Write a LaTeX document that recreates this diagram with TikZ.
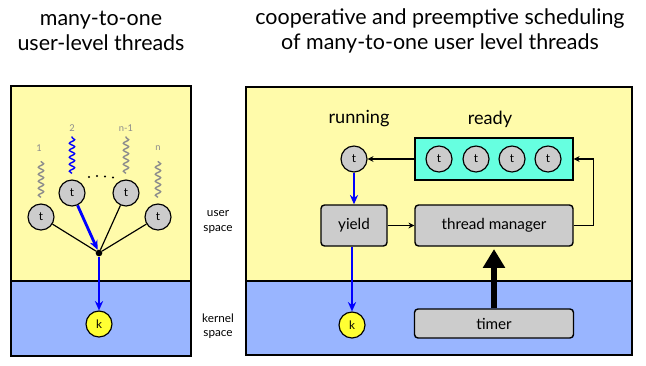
\documentclass[tikz,border=0pt]{standalone}
\usepackage{fontspec}
\setmainfont{Lato}
\usetikzlibrary{arrows.meta,positioning,decorations.pathmorphing}

\definecolor{userbg}{HTML}{FFFBAA}
\definecolor{kernbg}{HTML}{99B5FF}
\definecolor{boxgray}{HTML}{CCCCCC}
\definecolor{readybg}{HTML}{66FFE0}
\definecolor{kyellow}{HTML}{FFFF33}
\definecolor{wavegray}{HTML}{8C8C8C}

\begin{document}
\begin{tikzpicture}[
  x=0.03cm, y=-0.03cm,
  panel/.style={draw, line width=1.6pt},
  thr/.style={circle, draw, line width=1pt, fill=boxgray, minimum size=0.78cm,
    inner sep=0pt, font=\fontsize{10}{10}\selectfont},
  kthr/.style={thr, fill=kyellow},
  junc/.style={circle, fill, inner sep=0pt, minimum size=0.2cm},
  mbox/.style={draw, rounded corners=3pt, line width=1.2pt, fill=boxgray,
    minimum height=1.23cm, font=\fontsize{13}{15}\selectfont},
  title/.style={align=center, font=\fontsize{18.3}{22}\selectfont},
  state/.style={font=\fontsize{15.5}{19}\selectfont},
  side/.style={align=center, font=\fontsize{10}{12}\selectfont},
  num/.style={text=wavegray, font=\fontsize{8}{8}\selectfont},
  wave/.style={draw=wavegray, line width=1.2pt,
    decorate, decoration={snake, amplitude=0.08cm, segment length=0.21cm}},
  link/.style={-{Stealth[length=5pt, width=5pt]}, line width=1pt},
  flow/.style={-{Stealth[length=8pt, width=7pt]}, draw=blue, line width=2.4pt},
  tick/.style={-{Triangle[length=16pt, width=18pt]}, line width=4.5pt}
]
\useasboundingbox (0,0) rectangle (646,365);

% titles
\node[title] (ltitle) at (101,31) {many-to-one\\user-level threads};
\node[title] (rtitle) at (440,31) {cooperative and preemptive scheduling\\of many-to-one user level threads};

% left panel: user and kernel space
\fill[userbg] (11,86) rectangle (191,281);
\fill[kernbg] (11,281) rectangle (191,356);
\draw[panel] (11,86) rectangle (191,356);
\draw[panel] (11,281) -- (191,281);

\node[side] (uspace) at (218,222) {user\\space};
\node[side] (kspace) at (218,326) {kernel\\space};

\node[thr] (t1) at (41,217) {t};
\node[thr] (t2) at (72,193) {t};
\node[thr] (t3) at (126,193) {t};
\node[thr] (t4) at (158,217) {t};
\node[junc] (j) at (99,253) {};
\node[kthr] (k1) at (99,324) {k};

\draw[wave] (t1.north) ++(0,-6) -- ++(0,-36);
\draw[wave, draw=blue] (t2.north) ++(0,-6) -- ++(0,-37);
\draw[wave] (t3.north) ++(0,-6) -- ++(0,-37);
\draw[wave] (t4.north) ++(0,-6) -- ++(0,-36);
\node[num] (n1) at (39,148) {1};
\node[num] (n2) at (72,128) {2};
\node[num] (n3) at (126,128) {n-1};
\node[num] (n4) at (158,148) {n};
\fill (89,177) circle (1.2) (97,176) circle (1.2) (105,176.5) circle (1.2) (113,177.5) circle (1.2);

\draw[line width=1pt] (t1) -- (j);
\draw[line width=1pt] (t3) -- (j);
\draw[line width=1pt] (t4) -- (j);
\draw[flow] (t2) -- (j);
\draw[flow] (j) -- (k1);

% right panel: scheduling
\fill[userbg] (246,87) rectangle (632,281);
\fill[kernbg] (246,281) rectangle (632,355);
\draw[panel] (246,87) rectangle (632,355);
\draw[panel] (246,281) -- (632,281);

\node[state] (lrun) at (359,119) {running};
\node[state] (lready) at (490,119) {ready};

\node[draw, line width=1.2pt, fill=readybg, minimum width=4.74cm, minimum height=1.26cm] (ready) at (494,159) {};
\node[thr] (r1) at (439,159) {t};
\node[thr] (r2) at (476,159) {t};
\node[thr] (r3) at (512,159) {t};
\node[thr] (r4) at (548,159) {t};

\node[thr] (run) at (354,159) {t};
\node[mbox, minimum width=1.98cm] (yield) at (354,225.5) {yield};
\node[mbox, minimum width=4.74cm] (mgr) at (494,225.5) {thread manager};
\node[mbox, minimum width=4.77cm, minimum height=0.87cm] (timer) at (494,323.5) {timer};
\node[kthr] (k2) at (352,325) {k};

\draw[link] (ready) -- (run);
\draw[link] (yield) -- (mgr);
\draw[link] (mgr.east) -- ++(20,0) |- (ready.east);
\draw[flow] (run) -- (yield);
\draw[flow] (yield.south -| k2) -- (k2);
\draw[tick, shorten >=2pt] (timer) -- (mgr);
\end{tikzpicture}
\end{document}
